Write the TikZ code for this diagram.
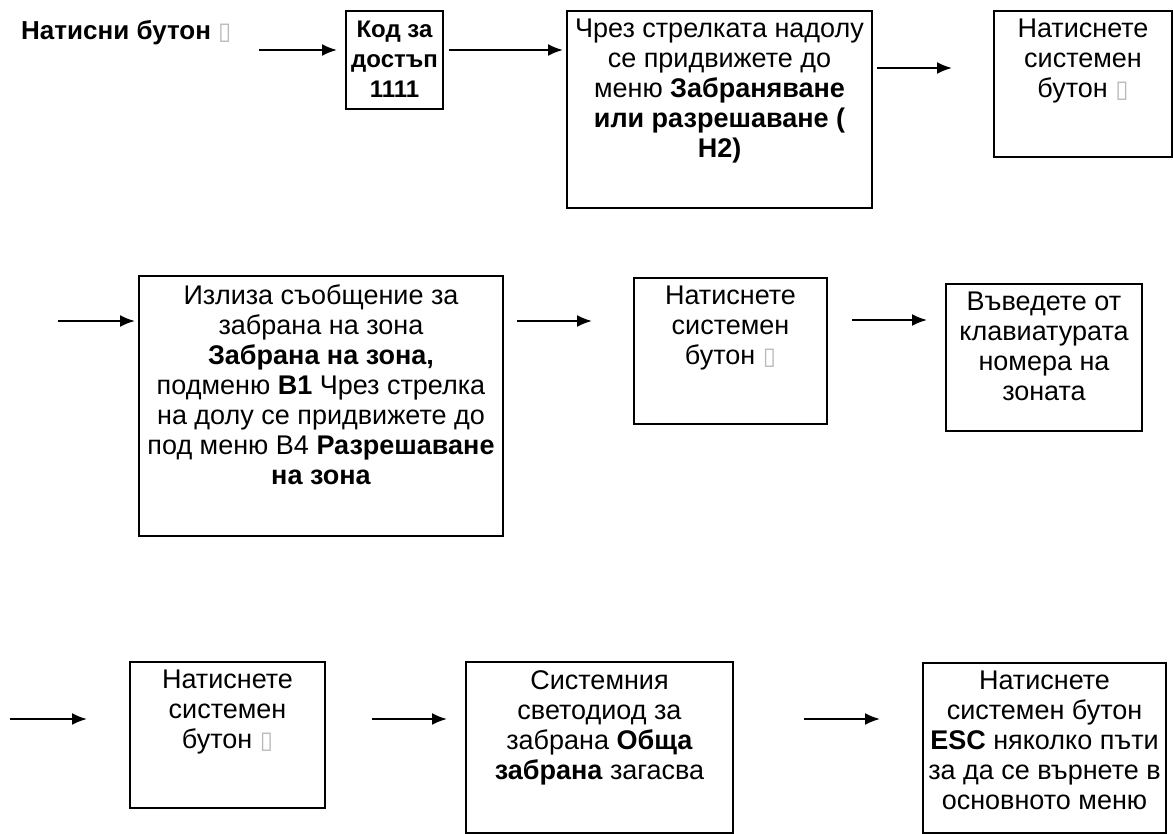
\documentclass[tikz,border=0pt]{standalone}
\usepackage{fontspec}
\setmainfont{Liberation Sans}
\newfontfamily\symfont{DejaVu Sans}
\usetikzlibrary{arrows.meta}
\usetikzlibrary{calc}

% the gray box that stands for a missing glyph
\newcommand{\nochar}{{\symfont\fontsize{24}{24}\selectfont\textcolor{gray!55}{▯}}}

\begin{document}
\begin{tikzpicture}[>={Latex[length=15pt,width=12pt]}, x=1pt, y=-1pt,
    frame/.style={draw, line width=2pt, inner sep=0pt, anchor=north west},
    txt/.style={align=center, anchor=north, inner sep=0pt, font=\fontsize{27}{30}\selectfont},
    boldtxt/.style={txt, font=\bfseries\fontsize{24}{30}\selectfont},
    arr/.style={->, line width=2pt}]
      \useasboundingbox (0,0) rectangle (1174,834);

      % row 1
      \node [name=lbl, anchor=base west, inner sep=0pt,
        font=\bfseries\fontsize{26}{30}\selectfont] at (21,40) {Натисни бутон \nochar};

      \node [frame, name=A, minimum width=97pt, minimum height=98pt] at (345,10) {};
      \node [boldtxt, name=A-t] at ($(A.north)+(0,11)$) {Код за\\достъп\\1111};

      \node [frame, name=B, minimum width=305pt, minimum height=197pt] at (566,10) {};
      \node [txt, name=B-t] at ($(B.north)+(0,9)$)
      {Чрез стрелката надолу\\се придвижете до\\меню \textbf{Забраняване}\\
        \textbf{или разрешаване (}\\\textbf{H2)}};

      \node [frame, name=C, minimum width=178pt, minimum height=146pt] at (993,10) {};
      \node [txt, name=C-t] at ($(C.north)+(0,9)$) {Натиснете\\системен\\бутон \nochar};

      \draw [arr] ($(A.north west)+(-86,40)$) -- ($(A.north west)+(-8,40)$);
      \draw [arr] ($(A.north east)+(5,40)$) -- ($(B.north west)+(-3,40)$);
      \draw [arr] ($(B.north east)+(4,58)$) -- ($(C.north west)+(-41,58)$);

      % row 2
      \node [frame, name=D, minimum width=364pt, minimum height=260pt] at (138,275) {};
      \node [txt, name=D-t] at ($(D.north)+(0,9)$)
      {Излиза съобщение за\\забрана на зона\\\textbf{Забрана на зона,}\\
        подменю \textbf{B1} Чрез стрелка\\на долу се придвижете до\\
        под меню B4 \textbf{Разрешаване}\\\textbf{на зона}};

      \node [frame, name=E, minimum width=193pt, minimum height=146pt] at (633,277) {};
      \node [txt, name=E-t] at ($(E.north)+(0,9)$) {Натиснете\\системен\\бутон \nochar};

      \node [frame, name=F, minimum width=196pt, minimum height=147pt] at (945,283) {};
      \node [txt, name=F-t] at ($(F.north)+(0,9)$) {Въведете от\\клавиатурата\\номера на\\зоната};

      \draw [arr] ($(D.north west)+(-80,46)$) -- ($(D.north west)+(-3,46)$);
      \draw [arr] ($(D.north east)+(13,46)$) -- ($(E.north west)+(-41,44)$);
      \draw [arr] ($(E.north east)+(24,43)$) -- ($(F.north west)+(-18,37)$);

      % row 3
      \node [frame, name=G, minimum width=195pt, minimum height=146pt] at (129,661) {};
      \node [txt, name=G-t] at ($(G.north)+(0,9)$) {Натиснете\\системен\\бутон \nochar};

      \node [frame, name=H, minimum width=267pt, minimum height=171pt] at (465,661) {};
      \node [txt, name=H-t] at ($(H.north)+(0,9)$)
      {Системния\\светодиод за\\забрана \textbf{Обща}\\\textbf{забрана} загасва};

      \node [frame, name=I, minimum width=243pt, minimum height=170pt] at (922,662) {};
      \node [txt, name=I-t] at ($(I.north)+(0,9)$)
      {Натиснете\\системен бутон\\\textbf{ESC} няколко пъти\\за да се върнете в\\основното меню};

      \draw [arr] ($(G.north west)+(-119,58)$) -- ($(G.north west)+(-42,58)$);
      \draw [arr] ($(G.north east)+(46,58)$) -- ($(H.north west)+(-18,58)$);
      \draw [arr] ($(H.north east)+(70,58)$) -- ($(I.north west)+(-42,57)$);
\end{tikzpicture}
\end{document}
